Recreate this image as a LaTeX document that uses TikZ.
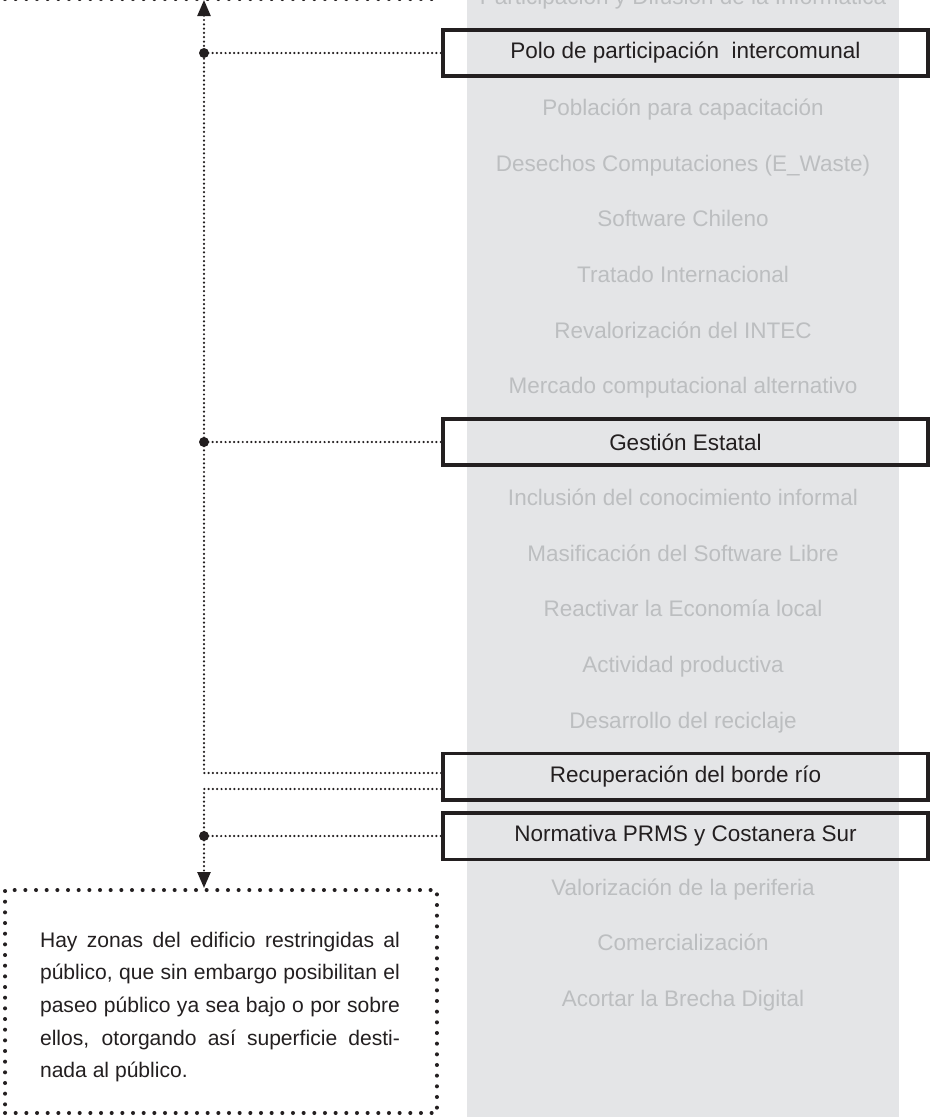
\documentclass[tikz,border=0pt]{standalone}
\usepackage{fontspec}
\setmainfont{Liberation Sans}
\usetikzlibrary{arrows.meta}

\definecolor{tinta}{HTML}{231F20}
\definecolor{panel}{HTML}{E4E5E7}
\definecolor{apagado}{HTML}{BCBEC0}

\begin{document}
\begin{tikzpicture}[x=0.02cm, y=-0.02cm, >={Triangle[width=0.26cm,length=0.32cm]},
    enlace/.style={draw=tinta, line width=1.4pt, line cap=round, dash pattern=on 0pt off 2.45pt},
    punteado/.style={draw=tinta, line width=2.3pt, line cap=round, dash pattern=on 0pt off 6.07pt},
    caja/.style={draw=tinta, line width=2pt, minimum width=9.71cm, minimum height=0.93cm,
        inner sep=0pt, text=tinta, font=\fontsize{12.8}{15}\selectfont},
    tema/.style={text=apagado, anchor=base, inner sep=0pt, font=\fontsize{12.8}{15}\selectfont},
    nota/.style={punteado, minimum width=8.64cm, minimum height=4.46cm, inner sep=0pt},
    parrafo/.style={text=tinta, text width=7.2cm, align=justify, inner sep=0pt,
        font=\fontsize{12}{18.6}\selectfont}]
  \useasboundingbox (0,0) rectangle (931,1117);

  % columna de temas
  \fill[panel] (467,0) rectangle (899,1117);
  \foreach \k/\txt in {0/Participación y Difusión de la Informática,
      2/Población para capacitación, 3/Desechos Computaciones (E\_Waste),
      4/Software Chileno, 5/Tratado Internacional, 6/Revalorización del INTEC,
      7/Mercado computacional alternativo, 9/Inclusión del conocimiento informal,
      10/Masificación del Software Libre, 11/Reactivar la Economía local,
      12/Actividad productiva, 13/Desarrollo del reciclaje,
      16/Valorización de la periferia, 17/Comercialización,
      18/Acortar la Brecha Digital}
    \node[tema] at (683,{4+55.7*\k}) {\txt};

  % temas destacados
  \node[caja] (polo) at (685.5,53) {Polo de participación\ \ intercomunal};
  \node[caja] (gestion) at (685.5,442) {Gestión Estatal};
  \node[caja] (borde) at (685.5,776.5) {Recuperación del borde río};
  \node[caja] (prms) at (685.5,836) {Normativa PRMS y Costanera Sur};

  % nota inferior
  \node[nota] (nota) at (221,1001.5) {};
  \node[parrafo] (texto) at (220,1007) {Hay zonas del edificio restringidas al\linebreak
    público, que sin embargo posibilitan el\linebreak
    paseo público ya sea bajo o por sobre\linebreak
    ellos, otorgando así superficie desti-\linebreak
    nada al público.};

  % borde de la nota superior
  \coordinate (arriba) at (204,0);
  \draw[punteado] (5,-1) -- (437,-1);

  % conectores
  \draw[enlace,->] ([yshift=0.07cm]borde.west) -| (arriba);
  \draw[enlace,->] ([yshift=-0.25cm]borde.west) -| (arriba |- nota.north);
  \foreach \n in {polo,gestion,prms}
    \draw[enlace] (arriba |- \n.west) -- (\n.west);
  \foreach \n in {polo,gestion,prms}
    \fill[tinta] (arriba |- \n.west) circle (0.1cm);
\end{tikzpicture}
\end{document}
